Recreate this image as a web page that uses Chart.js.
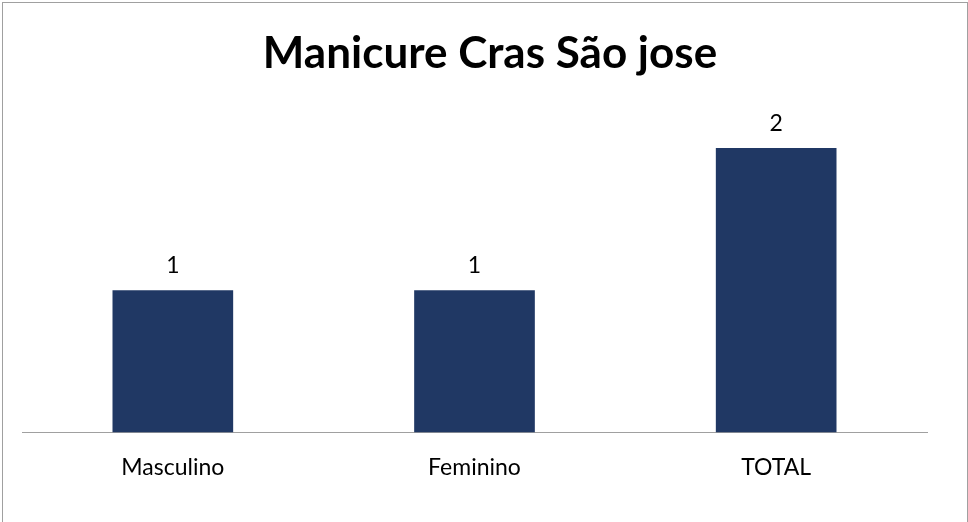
<!DOCTYPE html>
<html>
<head>
<meta charset="utf-8">
<script src="https://cdn.jsdelivr.net/npm/chart.js@4"></script>
<style>
  body { margin: 0; background: #fff; }
  #box { position: absolute; left: 2px; top: 2px; width: 964px; height: 530px; border: 1px solid #a0a0a0; border-bottom: none; }
  canvas { display: block; }
</style>
</head>
<body>
<div id="box"><canvas id="grafico" width="964" height="519"></canvas></div>
<script>
const categorias = ['Masculino', 'Feminino', 'TOTAL'];
const valores = [1, 1, 2];
const titulo = 'Manicure Cras São jose';

const fonte = 'Lato, "Open Sans", sans-serif';

// titulo e rotulos de valor desenhados por cima
const rotulos = {
  id: 'rotulos',
  afterDatasetsDraw(chart) {
    const ctx = chart.ctx;
    ctx.save();
    ctx.fillStyle = '#000';
    ctx.textAlign = 'center';
    ctx.textBaseline = 'middle';
    ctx.font = 'bold 44px ' + fonte;
    ctx.fillText(titulo, 487, 51);
    ctx.font = '23px ' + fonte;
    chart.getDatasetMeta(0).data.forEach((bar, i) => {
      ctx.fillText(String(valores[i]), bar.x, bar.y - 25);
    });
    ctx.restore();
  }
};

new Chart(document.getElementById('grafico'), {
  type: 'bar',
  data: {
    labels: categorias,
    datasets: [{
      data: valores,
      backgroundColor: '#203864',
      categoryPercentage: 1,
      barPercentage: 0.4
    }]
  },
  options: {
    responsive: false,
    animation: false,
    layout: { padding: { left: 19, right: 40, top: 74, bottom: 20 } },
    plugins: { legend: { display: false }, tooltip: { enabled: false } },
    scales: {
      y: { display: false, min: 0, max: 2.5 },
      x: {
        grid: { display: false, drawTicks: false },
        border: { color: '#a0a0a0', width: 1 },
        ticks: { color: '#000', padding: 21, font: { family: fonte, size: 23 } }
      }
    }
  },
  plugins: [rotulos]
});
</script>
</body>
</html>
